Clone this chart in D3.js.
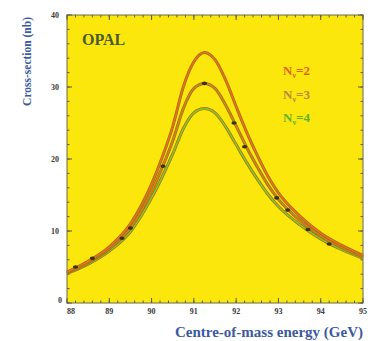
<!DOCTYPE html>
<html>
<head>
<meta charset="utf-8">
<script src="https://cdn.jsdelivr.net/npm/d3@7"></script>
<style>
  body { margin: 0; background: #fff; }
  svg { display: block; }
</style>
</head>
<body>
<svg width="378" height="341"></svg>
<script>
var energy = [88, 88.5, 89, 89.5, 90, 90.25, 90.5, 90.75, 91, 91.25, 91.5, 91.75, 92, 92.25, 92.5, 92.75, 93, 93.5, 94, 94.5, 95];
var nu2 = [4.3, 5.8, 7.8, 11.0, 16.5, 20.2, 24.5, 30.0, 33.5, 34.8, 33.8, 31.0, 27.3, 23.7, 20.5, 17.6, 15.3, 12.1, 9.7, 8.0, 6.6];
var nu3 = [4.2, 5.6, 7.5, 10.4, 15.5, 18.8, 22.5, 27.0, 29.8, 30.5, 29.8, 27.5, 24.6, 21.6, 18.9, 16.4, 14.4, 11.5, 9.3, 7.7, 6.4];
var nu4 = [4.1, 5.4, 7.2, 9.9, 14.6, 17.5, 20.7, 24.2, 26.4, 27.0, 26.4, 24.5, 22.0, 19.5, 17.2, 15.1, 13.4, 10.9, 8.9, 7.4, 6.2];
// OPAL measurements
var dataE = [88.2, 88.6, 89.3, 89.5, 90.27, 91.25, 91.95, 92.2, 92.96, 93.22, 93.7, 94.2];
var dataS = [5.0, 6.2, 9.0, 10.4, 19.0, 30.5, 25.0, 21.7, 14.6, 12.9, 10.2, 8.2];
var xTicks = [88, 89, 90, 91, 92, 93, 94, 95];
var yTicks = [0, 10, 20, 30, 40];

var svg = d3.select("svg"),
    margin = {top: 15, right: 15, bottom: 38, left: 67},
    width = +svg.attr("width") - margin.left - margin.right,
    height = +svg.attr("height") - margin.top - margin.bottom,
    g = svg.append("g").attr("transform", "translate(" + margin.left + "," + margin.top + ")");

var x = d3.scaleLinear().domain([88, 95]).range([0, width]);
var y = d3.scaleLinear().domain([0, 40]).range([height, 0]);

g.append("rect")
    .attr("width", width)
    .attr("height", height)
    .attr("fill", "#fce70c");

// ticks on all four sides, pointing inward
var minorX = d3.range(88, 95.01, 0.2), minorY = d3.range(0, 40.01, 2);
var tickCol = "#5a5a40";
var tg = g.append("g").attr("stroke", tickCol).attr("stroke-width", 1);
function ticks(vals, len, isX) {
  vals.forEach(function(v) {
    if (isX) {
      tg.append("line").attr("x1", x(v)).attr("x2", x(v)).attr("y1", height).attr("y2", height - len);
      tg.append("line").attr("x1", x(v)).attr("x2", x(v)).attr("y1", 0).attr("y2", len);
    } else {
      tg.append("line").attr("y1", y(v)).attr("y2", y(v)).attr("x1", 0).attr("x2", len);
      tg.append("line").attr("y1", y(v)).attr("y2", y(v)).attr("x1", width).attr("x2", width - len);
    }
  });
}
ticks(minorX, 2.5, true);
ticks(xTicks, 5, true);
ticks(minorY, 2.5, false);
ticks(yTicks, 5, false);

g.append("rect")
    .attr("width", width)
    .attr("height", height)
    .attr("fill", "none")
    .attr("stroke", "#6a6a4a")
    .attr("stroke-width", 1);

var line = d3.line()
    .x(function(d) { return x(d[0]); })
    .y(function(d) { return y(d[1]); })
    .curve(d3.curveMonotoneX);

var curves = [
  {vals: nu4, col: "#8cc428"},
  {vals: nu3, col: "#d08418"},
  {vals: nu2, col: "#e8701c"}
];
curves.forEach(function(c) {
  var pts = energy.map(function(e, i) { return [e, c.vals[i]]; });
  g.append("path")
      .attr("d", line(pts))
      .attr("fill", "none")
      .attr("stroke", "#a07018")
      .attr("stroke-width", 3);
  g.append("path")
      .attr("d", line(pts))
      .attr("fill", "none")
      .attr("stroke", c.col)
      .attr("stroke-width", 1.6);
});

g.selectAll(".pt")
    .data(dataE.map(function(e, i) { return [e, dataS[i]]; }))
    .enter().append("ellipse")
      .attr("cx", function(d) { return x(d[0]); })
      .attr("cy", function(d) { return y(d[1]); })
      .attr("rx", 2.6)
      .attr("ry", 1.8)
      .attr("fill", "#3a3020");

// tick labels
var tickFont = "'Liberation Serif', 'DejaVu Serif', serif";
g.selectAll(".xl")
    .data(xTicks)
    .enter().append("text")
      .attr("x", function(d) { return x(d) + (d === 88 ? 4 : 0); })
      .attr("y", height + 11)
      .attr("text-anchor", "middle")
      .attr("font-family", tickFont)
      .attr("font-weight", "bold")
      .attr("font-size", 8)
      .attr("fill", "#3a3a3a")
      .text(function(d) { return d; });

g.selectAll(".yl")
    .data(yTicks)
    .enter().append("text")
      .attr("x", function(d) { return d === 0 ? -7 : -12; })
      .attr("y", function(d) { return y(d) + 3 - (d === 0 ? 3 : 0); })
      .attr("text-anchor", "middle")
      .attr("font-family", tickFont)
      .attr("font-weight", "bold")
      .attr("font-size", 8)
      .attr("fill", "#3a3a3a")
      .text(function(d) { return d; });

// axis titles
svg.append("text")
    .attr("x", 363)
    .attr("y", 337)
    .attr("text-anchor", "end")
    .attr("font-family", tickFont)
    .attr("font-weight", "bold")
    .attr("font-size", 15)
    .attr("fill", "#3b5aa0")
    .text("Centre-of-mass energy (GeV)");

svg.append("text")
    .attr("transform", "translate(31,17) rotate(-90)")
    .attr("text-anchor", "end")
    .attr("font-family", tickFont)
    .attr("font-weight", "bold")
    .attr("font-size", 11.5)
    .attr("fill", "#3b5aa0")
    .text("Cross-section (nb)");

g.append("text")
    .attr("x", 15)
    .attr("y", 30)
    .attr("font-family", tickFont)
    .attr("font-weight", "bold")
    .attr("font-size", 16)
    .attr("fill", "#4a5a30")
    .text("OPAL");

var legend = [
  {n: "2", col: "#e2641c"},
  {n: "3", col: "#b48a3c"},
  {n: "4", col: "#5cb42c"}
];
legend.forEach(function(d, i) {
  var t = g.append("text")
      .attr("x", 216)
      .attr("y", 60 + i * 23.5)
      .attr("font-family", tickFont)
      .attr("font-weight", "bold")
      .attr("font-size", 13)
      .attr("fill", d.col);
  t.append("tspan").text("N");
  t.append("tspan").attr("font-size", 8).attr("dy", 3).text("ν");
  t.append("tspan").attr("dy", -3).text("=" + d.n);
});
</script>
</body>
</html>
